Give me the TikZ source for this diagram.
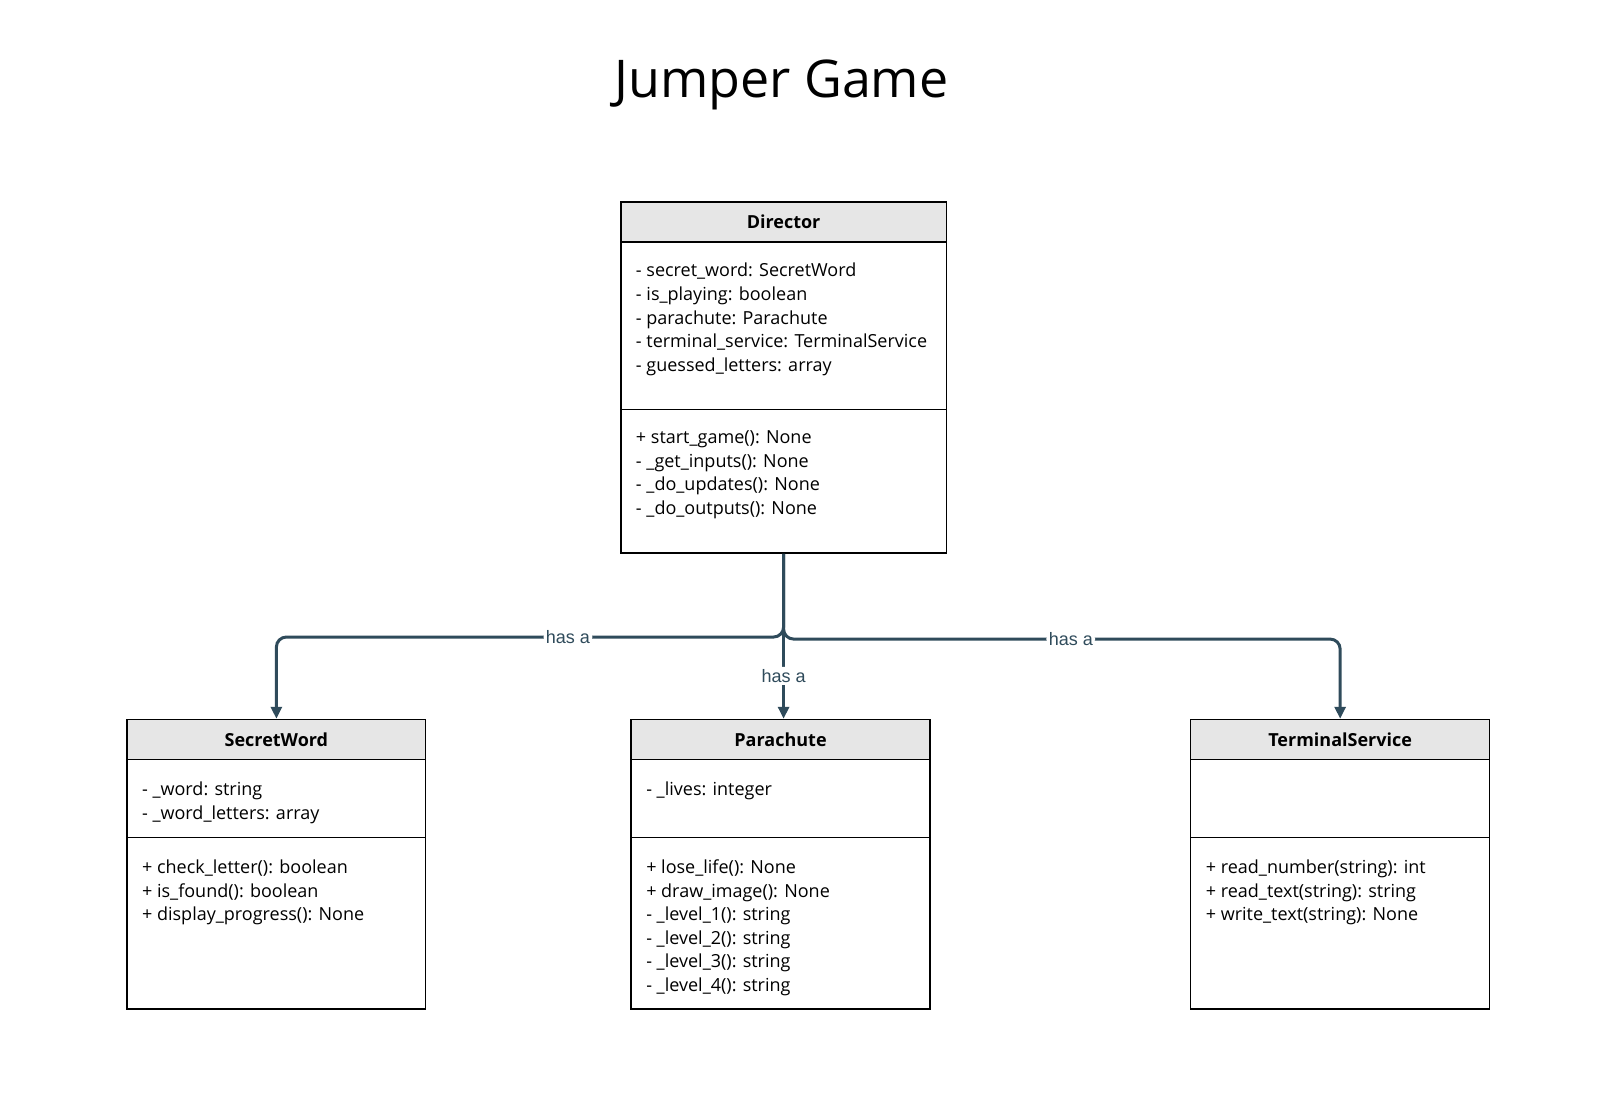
\documentclass[tikz,border=0pt]{standalone}
\usepackage{fontspec}
\setmainfont{Open Sans}
\newfontfamily\labelfont{Liberation Sans}
\usetikzlibrary{arrows.meta}
\definecolor{linkcol}{RGB}{47,75,91}
\definecolor{headgray}{RGB}{230,230,230}
\begin{document}
\begin{tikzpicture}[x=0.5134pt,y=-0.5134pt,
   box/.style={draw=black,line width=0.7pt,rectangle,inner sep=0pt,anchor=north west,minimum width=149.4pt},
   head/.style={box,fill=headgray,minimum height=20pt,font=\fontsize{9}{10}\selectfont\bfseries},
   members/.style={anchor=north west,inner sep=0pt,align=left,font=\fontsize{9}{11.8}\selectfont},
   conn/.style={draw=linkcol,line width=1.5pt,rounded corners=5pt,-{Triangle[length=6pt,width=5.5pt]}},
   has/.style={fill=white,text=linkcol,inner sep=1.2pt,font=\labelfont\fontsize{9}{10}\selectfont}]
   \useasboundingbox (0,0) rectangle (1568,1067.5);
   % タイトル
   \node [font=\fontsize{26}{31}\selectfont] (title) at (761,83) {Jumper Game};

   % Director
   \node [head,minimum width=162.7pt] (dirHead) at (604,196) {Director};
   \node [box,minimum width=162.7pt,minimum height=83.7pt] (dirAttr) at (604,235) {};
   \node [box,minimum width=162.7pt,minimum height=71.9pt] (dirOps) at (604,398) {};
   \node [members] (dirAttrText) at (619,256) {- secret\_word: SecretWord\\- is\_playing: boolean\\- parachute: Parachute\\- terminal\_service: TerminalService\\- guessed\_letters: array};
   \node [members] (dirOpsText) at (619,419) {+ start\_game(): None\\- \_get\_inputs(): None\\- \_do\_updates(): None\\- \_do\_outputs(): None};

   % SecretWord
   \node [head] (swHead) at (123,700) {SecretWord};
   \node [box,minimum height=39pt] (swAttr) at (123,739) {};
   \node [box,minimum height=85.7pt] (swOps) at (123,815) {};
   \node [members] (swAttrText) at (138,761) {- \_word: string\\- \_word\_letters: array};
   \node [members] (swOpsText) at (138,837) {+ check\_letter(): boolean\\+ is\_found(): boolean\\+ display\_progress(): None};

   % Parachute
   \node [head] (pcHead) at (614,700) {Parachute};
   \node [box,minimum height=39pt] (pcAttr) at (614,739) {};
   \node [box,minimum height=85.7pt] (pcOps) at (614,815) {};
   \node [members] (pcAttrText) at (629,761) {- \_lives: integer};
   \node [members] (pcOpsText) at (629,837) {+ lose\_life(): None\\+ draw\_image(): None\\- \_level\_1(): string\\- \_level\_2(): string\\- \_level\_3(): string\\- \_level\_4(): string};

   % TerminalService
   \node [head] (tsHead) at (1159,700) {TerminalService};
   \node [box,minimum height=39pt] (tsAttr) at (1159,739) {};
   \node [box,minimum height=85.7pt] (tsOps) at (1159,815) {};
   \node [members] (tsOpsText) at (1174,837) {+ read\_number(string): int\\+ read\_text(string): string\\+ write\_text(string): None};

   % 関連
   \draw [conn] (dirOps.south) -- ++(0,81) -| node[has,pos=0.2126] {has a} (swHead.north);
   \draw [conn] (dirOps.south) -- node[has,pos=0.74] {has a} (dirOps.south |- pcHead.north);
   \draw [conn] (dirOps.south) -- ++(0,83) -| node[has,pos=0.258] {has a} (tsHead.north);
\end{tikzpicture}
\end{document}
